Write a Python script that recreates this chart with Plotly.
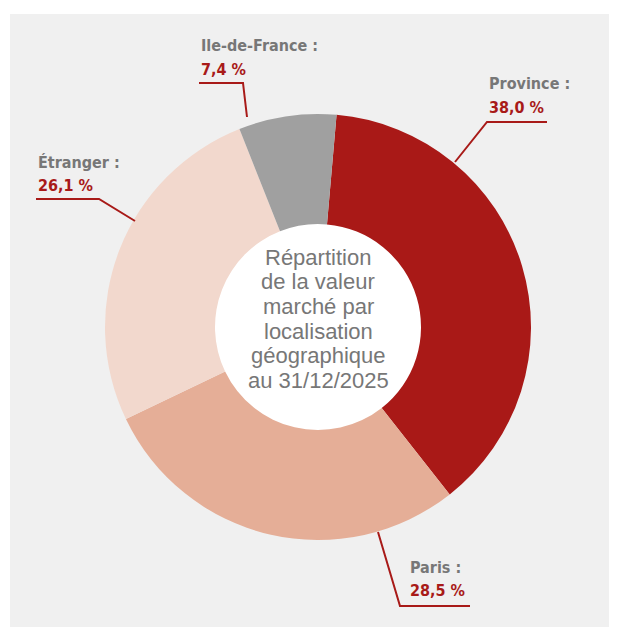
import plotly.graph_objects as go

# page body has an 8px margin: work in reference-pixel coordinates and shift
OFF = 8
W, H = 609, 619

labels = ["Province", "Paris", "Étranger", "Ile-de-France"]
values = [38.0, 28.5, 26.1, 7.4]
value_text = ["38,0 %", "28,5 %", "26,1 %", "7,4 %"]
colors = ["#a91917", "#e5ae97", "#f2d8cd", "#a0a0a0"]
center_lines = ["Répartition", "de la valeur", "marché par", "localisation",
                "géographique", "au 31/12/2025"]

RED = "#a81a18"
GREY_TXT = "#777777"

def px(x):
    return (x - OFF) / W

def py(y):
    return 1 - (y - OFF) / H

cx, cy, r = 318, 327, 213
hole_r = 103

fig = go.Figure(go.Pie(
    labels=labels, values=values, sort=False, direction="clockwise",
    rotation=5, hole=hole_r / r, marker=dict(colors=colors, line=dict(width=0)),
    textinfo="none", hoverinfo="label+percent", showlegend=False,
    domain=dict(x=[px(cx - r), px(cx + r)], y=[py(cy + r), py(cy - r)]),
))

placements = {
    "Ile-de-France": dict(x=199, ny=46, vy=70, under=[(199, 83), (243, 83), (247, 117)]),
    "Province": dict(x=487, ny=83, vy=107, under=[(547, 122), (487, 122), (455, 162)]),
    "Étranger": dict(x=36, ny=162, vy=185, under=[(36, 199), (99, 199), (135, 221)]),
    "Paris": dict(x=408, ny=567, vy=590, under=[(470, 606), (400, 606), (378, 532)]),
}

FONT = "DejaVu Sans Condensed, Liberation Sans Narrow, sans-serif"
LSIZE = 16

shapes = [
    dict(type="rect", xref="paper", yref="paper", x0=px(10), x1=px(640),
         y0=py(660), y1=py(14), fillcolor="#f0f0f0", line=dict(width=0), layer="below"),
    dict(type="circle", xref="paper", yref="paper",
         x0=px(cx - hole_r - 1), x1=px(cx + hole_r + 1),
         y0=py(cy + hole_r + 1), y1=py(cy - hole_r - 1),
         fillcolor="white", line=dict(width=0), layer="below"),
]
annotations = []
for lab, vt in zip(labels, value_text):
    p = placements[lab]
    annotations.append(dict(x=px(p["x"]), y=py(p["ny"]), xref="paper", yref="paper",
                            xanchor="left", yanchor="middle", showarrow=False,
                            text=f"<b>{lab} :</b>",
                            font=dict(family=FONT, size=LSIZE, color=GREY_TXT)))
    annotations.append(dict(x=px(p["x"]), y=py(p["vy"]), xref="paper", yref="paper",
                            xanchor="left", yanchor="middle", showarrow=False,
                            text=f"<b>{vt}</b>",
                            font=dict(family=FONT, size=LSIZE, color=RED)))
    path = "M " + " L ".join(f"{px(a)},{py(b)}" for a, b in p["under"])
    shapes.append(dict(type="path", xref="paper", yref="paper", path=path,
                       line=dict(color=RED, width=2)))

for i, line in enumerate(center_lines):
    annotations.append(dict(x=px(318), y=py(257 + 24.7 * i), xref="paper", yref="paper",
                            xanchor="center", yanchor="middle", showarrow=False,
                            text=line,
                            font=dict(family="Liberation Sans, Arial, sans-serif",
                                      size=22, color=GREY_TXT)))

fig.update_layout(width=W, height=H, margin=dict(l=0, r=0, t=0, b=0),
                  paper_bgcolor="white", plot_bgcolor="white",
                  shapes=shapes, annotations=annotations)

fig.write_html("out.html")
